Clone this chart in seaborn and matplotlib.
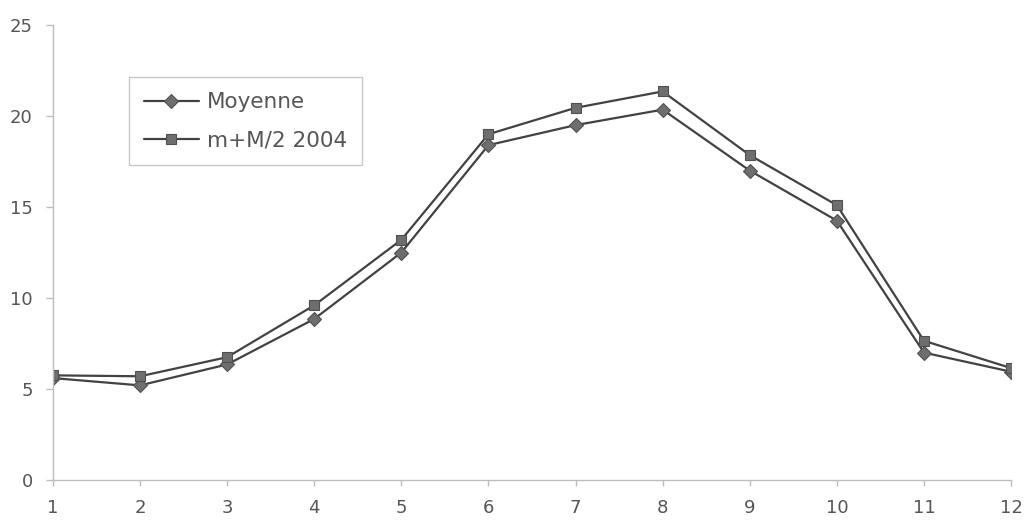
import matplotlib
matplotlib.use("Agg")
import matplotlib.pyplot as plt
import seaborn as sns
import pandas as pd

# Monthly temperatures (°C)
mois = [1, 2, 3, 4, 5, 6, 7, 8, 9, 10, 11, 12]
moyenne = [5.6, 5.2, 6.35, 8.85, 12.5, 18.4, 19.5, 20.35, 17.0, 14.25, 7.0, 5.95]
m_M_2004 = [5.75, 5.7, 6.75, 9.6, 13.2, 19.0, 20.45, 21.35, 17.85, 15.1, 7.65, 6.15]
series = ["Moyenne", "m+M/2 2004"]
y_ticks = [0, 5, 10, 15, 20, 25]

df = pd.DataFrame({
    "mois": mois * 2,
    "temp": moyenne + m_M_2004,
    "serie": [series[0]] * len(mois) + [series[1]] * len(mois),
})

sns.set_theme(style="white")
plt.rcParams["font.family"] = ["DejaVu Sans"]

fig = plt.figure(figsize=(10.25, 5.2), dpi=100)
ax = fig.add_axes([0.0517, 0.0769, 0.9347, 0.875])

line_col = "#424242"
sns.lineplot(
    data=df, x="mois", y="temp", hue="serie", style="serie",
    hue_order=series, style_order=series,
    palette=[line_col, line_col], markers=["D", "s"], dashes=False,
    linewidth=1.6, markersize=7, markerfacecolor="#6e6e6e",
    markeredgecolor="#505050", markeredgewidth=0.8, ax=ax,
)

ax.set_xlim(1, 12)
ax.set_ylim(0, 25)
ax.set_xticks(mois)
ax.set_yticks(y_ticks)
ax.set_xlabel("")
ax.set_ylabel("")

axis_col = "#bdbdbd"
for side in ["top", "right"]:
    ax.spines[side].set_visible(False)
for side in ["left", "bottom"]:
    ax.spines[side].set_color(axis_col)
    ax.spines[side].set_linewidth(1.0)

ax.tick_params(axis="y", which="major", direction="out", length=5, width=1,
               color=axis_col, labelsize=13, labelcolor="#555555", pad=9.5,
               left=True)
ax.tick_params(axis="x", which="major", direction="out", length=4, width=1,
               color=axis_col, labelsize=13, labelcolor="#555555", pad=9.5,
               bottom=True)

leg = ax.legend(
    loc="upper left", bbox_to_anchor=(0.0793, 0.8857), fontsize=15.5,
    frameon=True, fancybox=False, shadow=False, framealpha=1,
    edgecolor="#c8c8c8", handlelength=2.55, handletextpad=0.37,
    borderpad=0.7, labelspacing=0.85, borderaxespad=0,
)
leg.get_frame().set_linewidth(1.0)
for t in leg.get_texts():
    t.set_color("#555555")

fig.savefig("out.png", dpi=100, facecolor="white")
